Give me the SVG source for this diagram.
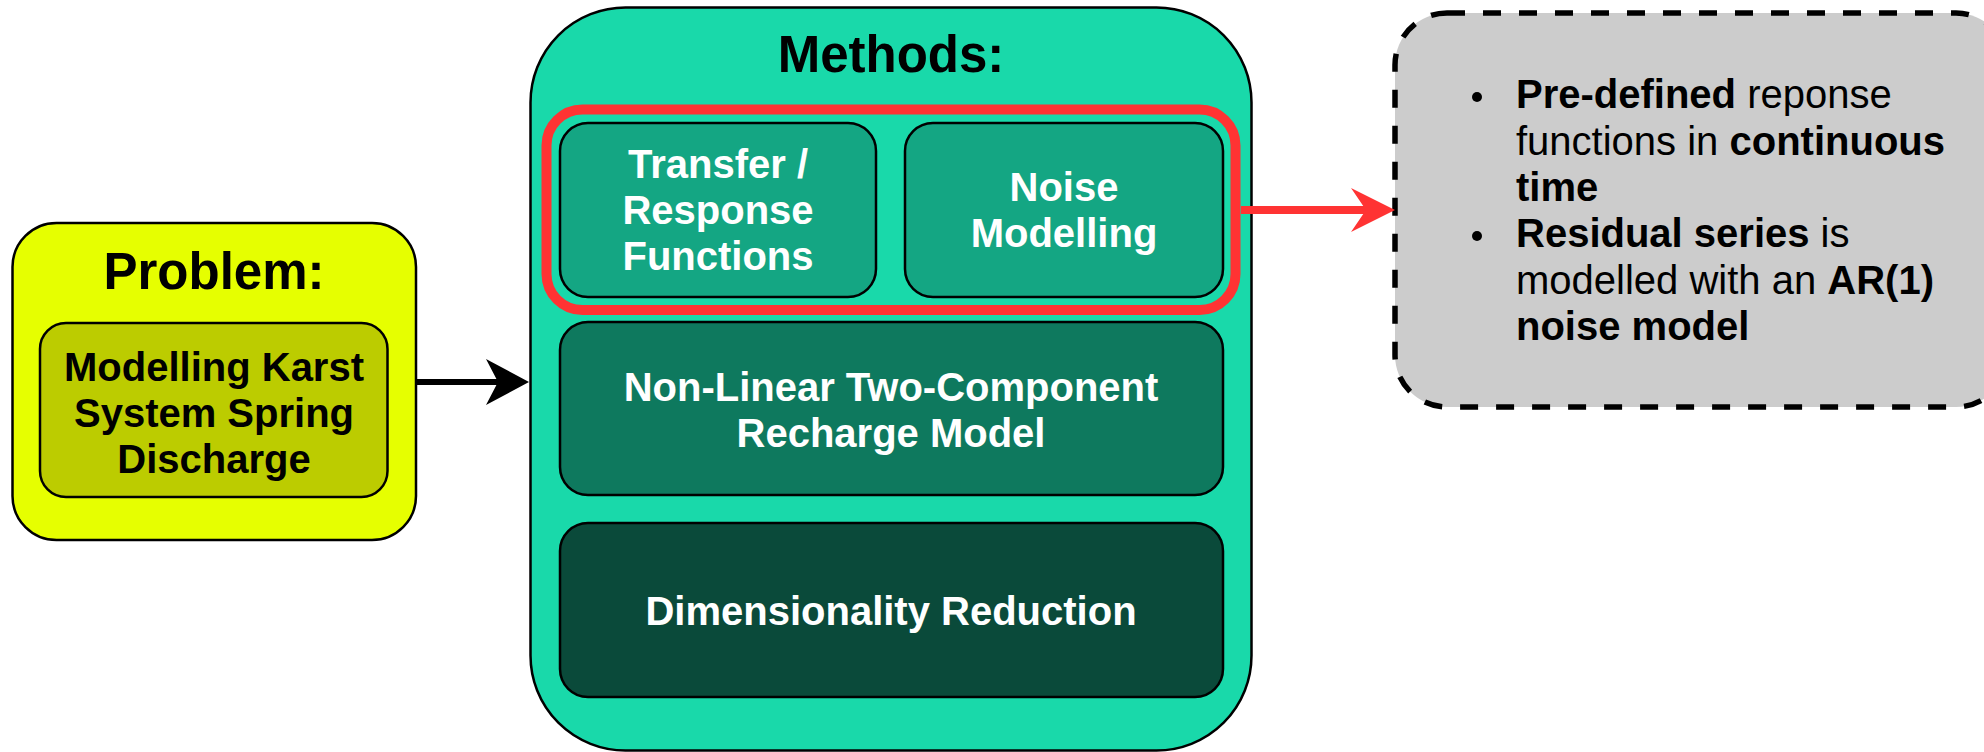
<svg xmlns="http://www.w3.org/2000/svg" width="1984" height="752" viewBox="0 0 1984 752">
<style>
text{font-family:"Liberation Sans",Arial,sans-serif;font-weight:bold;text-anchor:middle}
.title{font-size:51px;fill:#000}
.lbl{font-size:40px;fill:#fff}
.blk{font-size:40px;fill:#000}
.box{stroke:#000;stroke-width:2.5}
.bl{font-size:40px;fill:#000;text-anchor:start;font-weight:normal}
.b{font-weight:bold}
</style>
<rect width="1984" height="752" fill="#fff"/>
<g id="problem">
<rect class="box" x="12.5" y="223" width="403.5" height="317" rx="44" fill="#E6FF00"/>
<text class="title" x="214" y="289">Problem:</text>
<rect class="box" x="40" y="323" width="347.5" height="174" rx="26" fill="#BCCC00"/>
<text class="blk" x="214" y="381">Modelling Karst</text>
<text class="blk" x="214" y="427">System Spring</text>
<text class="blk" x="214" y="473">Discharge</text>
</g>
<g id="methods">
<rect class="box" x="530.5" y="7.5" width="721" height="743" rx="95" fill="#19D9AA"/>
<text class="title" x="891" y="72">Methods:</text>
</g>
<g id="highlight">
<rect x="546.5" y="109.5" width="689" height="200.5" rx="36" fill="none" stroke="#FF3333" stroke-width="10"/>
</g>
<g id="transfer">
<rect class="box" x="560" y="123" width="316" height="174" rx="28" fill="#14A683"/>
<text class="lbl" x="718" y="178">Transfer /</text>
<text class="lbl" x="718" y="224">Response</text>
<text class="lbl" x="718" y="270">Functions</text>
</g>
<g id="noise">
<rect class="box" x="905" y="123" width="318" height="174" rx="28" fill="#14A683"/>
<text class="lbl" x="1064" y="201">Noise</text>
<text class="lbl" x="1064" y="247">Modelling</text>
</g>
<g id="recharge">
<rect class="box" x="560" y="322" width="663" height="173" rx="28" fill="#0E795E"/>
<text class="lbl" x="891" y="401">Non-Linear Two-Component</text>
<text class="lbl" x="891" y="447">Recharge Model</text>
</g>
<g id="dimred">
<rect class="box" x="560" y="523" width="663" height="174" rx="28" fill="#0A4A3A"/>
<text class="lbl" x="891" y="625">Dimensionality Reduction</text>
</g>
<g id="notes">
<rect x="1395" y="13" width="613" height="394" rx="52" fill="#CCCCCC" stroke="#000" stroke-width="5.5" stroke-dasharray="18 18"/>
<circle cx="1477" cy="97" r="5" fill="#000"/>
<circle cx="1477" cy="236" r="5" fill="#000"/>
<text class="bl" x="1516" y="108"><tspan class="b">Pre-defined</tspan> reponse</text>
<text class="bl" x="1516" y="154.5">functions in <tspan class="b">continuous</tspan></text>
<text class="bl" x="1516" y="201"><tspan class="b">time</tspan></text>
<text class="bl" x="1516" y="247"><tspan class="b">Residual series</tspan> is</text>
<text class="bl" x="1516" y="293.5">modelled with an <tspan class="b">AR(1)</tspan></text>
<text class="bl" x="1516" y="340"><tspan class="b">noise model</tspan></text>
</g>
<g id="connectors">
<line x1="416" y1="382" x2="499" y2="382" stroke="#000" stroke-width="6"/>
<polygon points="529,382 486,359 498,382 486,405" fill="#000"/>
<line x1="1241" y1="210" x2="1368" y2="210" stroke="#FF3333" stroke-width="8"/>
<polygon points="1395,210 1351,188 1366,210 1351,232" fill="#FF3333"/>
</g>
</svg>
